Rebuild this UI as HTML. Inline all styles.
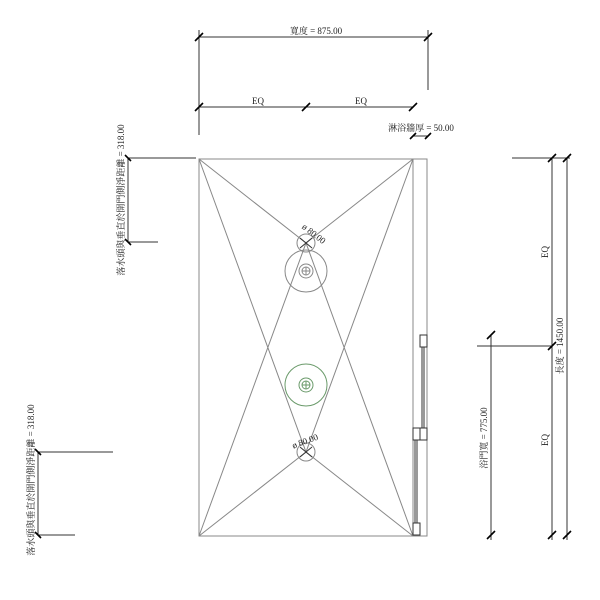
<!DOCTYPE html>
<html><head><meta charset="utf-8"><style>body{margin:0;background:#fff}svg{display:block}text{font-family:"Liberation Serif","Noto Serif CJK SC",serif;font-size:9px;fill:#222}</style></head><body>
<svg width="600" height="600" viewBox="0 0 600 600" xmlns="http://www.w3.org/2000/svg">
<g fill="none" stroke="#333" stroke-width="1">
<!-- top dims -->
<line x1="199" y1="37" x2="428" y2="37"/>
<line x1="199" y1="30" x2="199" y2="135"/>
<line x1="428" y1="30" x2="428" y2="90"/>
<line x1="199" y1="107" x2="413" y2="107"/>
<line x1="413" y1="136" x2="428" y2="136"/>
<!-- right dims -->
<line x1="552" y1="158" x2="552" y2="540"/>
<line x1="567" y1="158" x2="567" y2="540"/>
<line x1="512" y1="158" x2="570" y2="158"/>
<line x1="477" y1="346" x2="552" y2="346"/>
<line x1="491" y1="335" x2="491" y2="540"/>
<!-- left dims -->
<line x1="128" y1="158" x2="128" y2="242"/>
<line x1="128" y1="158" x2="196" y2="158"/>
<line x1="128" y1="242" x2="158" y2="242"/>
<line x1="38" y1="452" x2="38" y2="535"/>
<line x1="38" y1="452" x2="113" y2="452"/>
<line x1="38" y1="535" x2="75" y2="535"/>
</g>
<g stroke="#000" stroke-width="1.6">
<path d="M195 41L203 33M424 41L432 33M195 111L203 103M302 111L310 103M409 111L417 103M410 139L416 133M425 139L431 133M548 162L556 154M563 162L571 154M548 350L556 342M487 339L495 331M487 539L495 531M548 539L556 531M563 539L571 531M125 155L131 161M125 239L131 245M35 449L41 455M35 532L41 538"/>
</g>
<g fill="none" stroke="#888" stroke-width="1">
<rect x="199" y="159" width="228" height="377"/>
<line x1="413" y1="159" x2="413" y2="536"/>
<path d="M199 159L306 243L413 159M199 536L306 243L413 536M199 159L306 452L413 159M199 536L306 452L413 536"/>
<circle cx="306" cy="271" r="21"/>
<circle cx="306" cy="271" r="7"/><circle cx="306" cy="271" r="4"/>
<path d="M302 271h8M306 267v8"/>
<circle cx="306" cy="243" r="9"/><circle cx="306" cy="452" r="9"/>
</g>
<g fill="none" stroke="#6a9a6a" stroke-width="1">
<circle cx="306" cy="385" r="21"/><circle cx="306" cy="385" r="7"/><circle cx="306" cy="385" r="4"/>
<path d="M302 385h8M306 381v8"/>
</g>
<g fill="none" stroke="#333" stroke-width="1">
<path d="M300 238l12 10M300 248l12-10M300 447l12 10M300 457l12-10"/>
<rect x="420" y="335" width="7" height="12"/>
<rect x="413" y="428" width="7" height="12"/><rect x="420" y="428" width="7" height="12"/>
<rect x="413" y="523" width="7" height="12"/>
<line x1="422" y1="347" x2="422" y2="428"/><line x1="424" y1="347" x2="424" y2="428"/>
<line x1="415" y1="440" x2="415" y2="523"/><line x1="417" y1="440" x2="417" y2="523"/>
</g>
<text x="316" y="34" text-anchor="middle">寬度 = 875.00</text>
<text x="258" y="104" text-anchor="middle">EQ</text>
<text x="361" y="104" text-anchor="middle">EQ</text>
<text x="421" y="131" text-anchor="middle">淋浴牆厚 = 50.00</text>
<text transform="translate(312,236) rotate(38)" text-anchor="middle">ø 80.00</text>
<text transform="translate(306,444) rotate(-20)" text-anchor="middle">ø 80.00</text>
<text transform="translate(548,252) rotate(-90)" text-anchor="middle">EQ</text>
<text transform="translate(548,440) rotate(-90)" text-anchor="middle">EQ</text>
<text transform="translate(563,346) rotate(-90)" text-anchor="middle">長度 = 1450.00</text>
<text transform="translate(487,438) rotate(-90)" text-anchor="middle">浴門寬 = 775.00</text>
<text transform="translate(124,200) rotate(-90)" text-anchor="middle">落水頭與垂直於開門側淨距離 = 318.00</text>
<text transform="translate(34,480) rotate(-90)" text-anchor="middle">落水頭與垂直於開門側淨距離 = 318.00</text>
</svg>
</body></html>
